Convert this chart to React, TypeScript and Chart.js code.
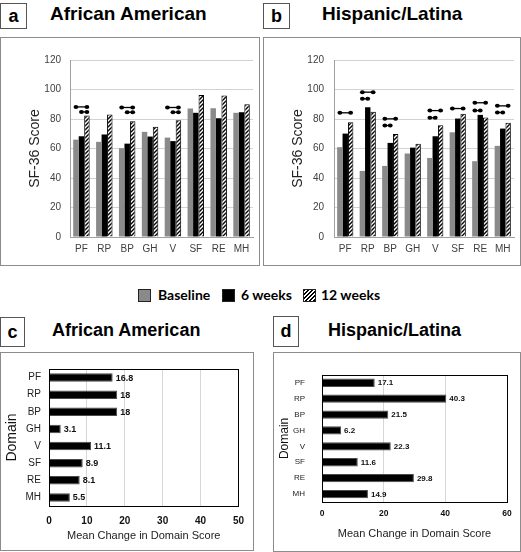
import React, { useEffect, useRef } from 'react';
import { Chart, registerables } from 'chart.js';

Chart.register(...registerables);

const FONT = '"Liberation Sans", Arial, Helvetica, sans-serif';
Chart.defaults.font.family = FONT;

// ---------- data ----------
const domains = ['PF', 'RP', 'BP', 'GH', 'V', 'SF', 'RE', 'MH'];
const seriesNames = ['Baseline', '6 weeks', '12 weeks'];

const aaBaseline = [66, 64.5, 60.2, 71.3, 67.4, 87.1, 87.3, 84.2];
const aaWeek6 = [68.3, 69.5, 63.3, 68.1, 65, 84.2, 80.5, 84.6];
const aaWeek12 = [82.3, 83, 78.5, 74.7, 79.2, 96.2, 96, 90];

const hlBaseline = [60.9, 44.8, 48.2, 56.6, 53.6, 71, 51.4, 61.8];
const hlWeek6 = [70.1, 88, 63.8, 60.6, 68.3, 80.3, 82.8, 73.5];
const hlWeek12 = [77.8, 85, 69.9, 63.3, 75.8, 83.5, 81, 77.4];

const scoreTicks = [0, 20, 40, 60, 80, 100, 120];

// significance markers: [domain index, from series, to series, score level]
const aaSig = [
  [0, 0, 2, 88.2], [0, 1, 2, 84.8],
  [2, 0, 2, 87.8], [2, 1, 2, 84.6],
  [4, 0, 2, 87.8], [4, 1, 2, 84.6],
];
const hlSig = [
  [0, 0, 2, 84.2],
  [1, 0, 2, 98.2], [1, 0, 1, 93.7],
  [2, 0, 2, 80.1], [2, 0, 1, 75.6],
  [4, 0, 2, 85.7], [4, 0, 1, 80.8],
  [5, 0, 2, 87.1],
  [6, 0, 2, 91], [6, 0, 1, 85.7],
  [7, 0, 2, 88.9], [7, 0, 1, 84.4],
];

const aaChange = [16.8, 18, 18, 3.1, 11.1, 8.9, 8.1, 5.5];
const hlChange = [17.1, 40.3, 21.5, 6.2, 22.3, 11.6, 29.8, 14.9];
const aaChangeTicks = [0, 10, 20, 30, 40, 50];
const hlChangeTicks = [0, 20, 40, 60];

// ---------- helpers ----------
function makeHatch(): CanvasPattern | string {
  const c = document.createElement('canvas');
  c.width = 4;
  c.height = 4;
  const ctx = c.getContext('2d');
  if (!ctx) return '#555';
  ctx.fillStyle = '#fff';
  ctx.fillRect(0, 0, 4, 4);
  ctx.strokeStyle = '#000';
  ctx.lineWidth = 1.4;
  ctx.beginPath();
  ctx.moveTo(0, 4); ctx.lineTo(4, 0);
  ctx.moveTo(-1, 1); ctx.lineTo(1, -1);
  ctx.moveTo(3, 5); ctx.lineTo(5, 3);
  ctx.stroke();
  return ctx.createPattern(c, 'repeat') || '#555';
}

function sigPlugin(items: number[][]) {
  return {
    id: 'sigMarkers',
    afterDatasetsDraw(chart: any) {
      const ctx = chart.ctx;
      const y = chart.scales.y;
      ctx.save();
      ctx.strokeStyle = '#000';
      ctx.fillStyle = '#000';
      ctx.lineWidth = 1.3;
      items.forEach(([cat, from, to, val]) => {
        const a = chart.getDatasetMeta(from).data[cat];
        const b = chart.getDatasetMeta(to).data[cat];
        const py = y.getPixelForValue(val);
        ctx.beginPath();
        ctx.moveTo(a.x, py);
        ctx.lineTo(b.x, py);
        ctx.stroke();
        [a.x, b.x].forEach((px: number) => {
          ctx.beginPath();
          ctx.ellipse(px, py, 2.4, 2.0, 0, 0, Math.PI * 2);
          ctx.fill();
        });
      });
      ctx.restore();
    },
  };
}

const framePlugin = {
  id: 'frame',
  afterDatasetsDraw(chart: any) {
    const { left, top, right, bottom } = chart.chartArea;
    const ctx = chart.ctx;
    ctx.save();
    ctx.strokeStyle = '#000';
    ctx.lineWidth = 1;
    ctx.strokeRect(Math.round(left) + 0.5, Math.round(top) + 0.5, Math.round(right - left), Math.round(bottom - top));
    ctx.restore();
  },
};

function valueLabelPlugin(size: number) {
  return {
    id: 'valueLabels',
    afterDatasetsDraw(chart: any) {
      const ctx = chart.ctx;
      const meta = chart.getDatasetMeta(0);
      const data = chart.data.datasets[0].data;
      ctx.save();
      ctx.font = `bold ${size}px ${FONT}`;
      ctx.fillStyle = '#111';
      ctx.textAlign = 'left';
      ctx.textBaseline = 'middle';
      meta.data.forEach((bar: any, i: number) => {
        ctx.fillText(String(data[i]), bar.x + 3, bar.y + 0.5);
      });
      ctx.restore();
    },
  };
}

function topConfig(base: number[], w6: number[], w12: number[], sig: number[][], yWidth: number, titlePad: number, tickPad: number): any {
  return {
    type: 'bar',
    data: {
      labels: domains,
      datasets: [
        { label: seriesNames[0], data: base, backgroundColor: '#8a8a8a', borderWidth: 0 },
        { label: seriesNames[1], data: w6, backgroundColor: '#000', borderWidth: 0 },
        { label: seriesNames[2], data: w12, backgroundColor: makeHatch(), borderColor: '#000', borderWidth: 1, borderSkipped: 'bottom' },
      ],
    },
    options: {
      responsive: false,
      animation: false,
      events: [],
      layout: { padding: { left: 0, top: 22, right: 6, bottom: 0 } },
      datasets: { bar: { categoryPercentage: 0.72, barPercentage: 1 } },
      plugins: { legend: { display: false }, tooltip: { enabled: false } },
      scales: {
        x: {
          grid: { display: false, drawTicks: false },
          border: { color: '#a0a0a0' },
          ticks: { color: '#404040', font: { size: 10 }, padding: 6 },
          afterFit: (s: any) => { s.height = 28; },
        },
        y: {
          min: 0,
          max: 120,
          afterBuildTicks: (s: any) => { s.ticks = scoreTicks.map((v) => ({ value: v })); },
          grid: { color: '#d2d2d2', drawTicks: false },
          border: { color: '#a0a0a0' },
          ticks: { color: '#404040', font: { size: 10 }, padding: tickPad },
          title: { display: true, text: 'SF-36 Score', color: '#222', font: { size: 14 }, padding: { top: titlePad, bottom: 0 } },
          afterFit: (s: any) => { s.width = yWidth; },
        },
      },
    },
    plugins: [sigPlugin(sig)],
  };
}

function changeConfig(values: number[], ticks: number[], o: any): any {
  return {
    type: 'bar',
    data: {
      labels: domains,
      datasets: [
        { data: values, backgroundColor: '#000', borderColor: '#4a4a4a', borderWidth: 1, categoryPercentage: o.catPct, barPercentage: 1 },
      ],
    },
    options: {
      indexAxis: 'y',
      responsive: false,
      animation: false,
      events: [],
      layout: { padding: { left: 0, top: 16, right: o.right, bottom: 0 } },
      plugins: { legend: { display: false }, tooltip: { enabled: false } },
      scales: {
        x: {
          min: ticks[0],
          max: ticks[ticks.length - 1],
          afterBuildTicks: (s: any) => { s.ticks = ticks.map((v) => ({ value: v })); },
          grid: { color: '#d6d6d6', drawTicks: false },
          border: { display: false },
          ticks: { color: '#111', font: { size: o.tickSize, weight: 'bold' }, padding: o.tickPad },
          title: { display: true, text: 'Mean Change in Domain Score', color: '#222', font: { size: 11 }, padding: { top: 0, bottom: o.xTitlePad } },
          afterFit: (s: any) => { s.height = o.xHeight; },
        },
        y: {
          grid: { display: false, drawTicks: false },
          border: { display: false },
          ticks: { color: '#222', font: { size: o.catSize }, padding: o.catPad },
          title: { display: true, text: 'Domain', color: '#111', font: { size: o.yTitleSize }, padding: { top: o.yTitlePad, bottom: 0 } },
          afterFit: (s: any) => { s.width = o.yWidth; },
        },
      },
    },
    plugins: [framePlugin, valueLabelPlugin(o.labelSize)],
  };
}

// ---------- components ----------
function ChartCanvas({ width, height, make }: { width: number; height: number; make: () => any }) {
  const ref = useRef<HTMLCanvasElement | null>(null);
  useEffect(() => {
    if (!ref.current) return;
    const chart = new Chart(ref.current, make());
    return () => chart.destroy();
  }, []);
  return <canvas ref={ref} width={width} height={height} style={{ display: 'block', width, height }} />;
}

function Panel({ left, top, w, h, children }: any) {
  return (
    <div style={{ position: 'absolute', left, top, width: w, height: h, boxSizing: 'border-box', border: '1px solid #8c8c8c' }}>
      {children}
    </div>
  );
}

function LabelBox({ left, top, w, h, text, size }: any) {
  return (
    <div style={{ position: 'absolute', left, top, width: w, height: h, boxSizing: 'border-box', border: '1px solid #555', display: 'flex', alignItems: 'center', justifyContent: 'center', fontWeight: 'bold', fontSize: size, fontFamily: FONT }}>
      {text}
    </div>
  );
}

function Title({ left, top, size, text }: any) {
  return (
    <div style={{ position: 'absolute', left, top, fontWeight: 'bold', fontSize: size, lineHeight: '22px', fontFamily: FONT, whiteSpace: 'nowrap' }}>
      {text}
    </div>
  );
}

const swatchBase: any = { position: 'absolute', top: 289, width: 13, height: 13, boxSizing: 'border-box', border: '1px solid #222' };
const legendText: any = { position: 'absolute', top: 287, lineHeight: '16px', fontSize: 14, fontWeight: 'bold', fontFamily: 'Lato, "Open Sans", sans-serif', whiteSpace: 'nowrap' };

export default function App() {
  return (
    <div style={{ position: 'absolute', left: 0, top: 0, width: 521, height: 552, background: '#fff', color: '#000', overflow: 'hidden' }}>
      <LabelBox left={0} top={3} w={27} h={26} text="a" size={18} />
      <Title left={50} top={3} size={19} text="African American" />
      <LabelBox left={263} top={3} w={27} h={26} text="b" size={18} />
      <Title left={322} top={3} size={19} text="Hispanic/Latina" />

      <Panel left={0} top={37} w={260} h={229}>
        <ChartCanvas width={258} height={227} make={() => topConfig(aaBaseline, aaWeek6, aaWeek12, aaSig, 69, 25.6, 9)} />
      </Panel>
      <Panel left={263} top={37} w={258} h={229}>
        <ChartCanvas width={256} height={227} make={() => topConfig(hlBaseline, hlWeek6, hlWeek12, hlSig, 70, 25.6, 10)} />
      </Panel>

      <div style={{ ...swatchBase, left: 138, background: '#8a8a8a' }} />
      <div style={{ ...legendText, left: 158 }}>{seriesNames[0]}</div>
      <div style={{ ...swatchBase, left: 222, background: '#000' }} />
      <div style={{ ...legendText, left: 241 }}>{seriesNames[1]}</div>
      <div style={{ ...swatchBase, left: 303, background: 'repeating-linear-gradient(135deg, #000 0 1.4px, #fff 1.4px 2.8px)' }} />
      <div style={{ ...legendText, left: 321 }}>{seriesNames[2]}</div>

      <LabelBox left={0} top={317} w={25} h={30} text="c" size={18} />
      <Title left={52} top={319} size={18} text="African American" />
      <LabelBox left={273} top={316} w={26} h={31} text="d" size={18} />
      <Title left={328} top={319} size={18} text="Hispanic/Latina" />

      <Panel left={0} top={352} w={254} h={199}>
        <ChartCanvas width={252} height={197} make={() => changeConfig(aaChange, aaChangeTicks, {
          catPct: 0.5, right: 5, tickSize: 10, tickPad: 9, xTitlePad: 7.4, xHeight: 44,
          catSize: 10, catPad: 8, yTitleSize: 14, yTitlePad: 2.6, yWidth: 48, labelSize: 9,
        })} />
      </Panel>
      <Panel left={273} top={352} w={248} h={200}>
        <ChartCanvas width={246} height={198} make={() => changeConfig(hlChange, hlChangeTicks, {
          catPct: 0.52, right: 13, tickSize: 8.5, tickPad: 7, xTitlePad: 10.4, xHeight: 49,
          catSize: 8, catPad: 17, yTitleSize: 12, yTitlePad: 3.8, yWidth: 48, labelSize: 8,
        })} />
      </Panel>
    </div>
  );
}
